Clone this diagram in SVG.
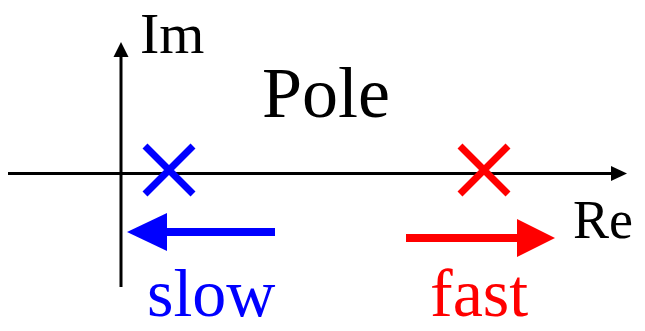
<svg xmlns="http://www.w3.org/2000/svg" width="645" height="331" viewBox="0 0 645 331">
<style>
.t{font-family:'Liberation Serif','Times New Roman',serif}
.ax{stroke:#000;stroke-width:3;fill:none}
.xb{stroke:#0000ff;stroke-width:7;fill:none}
.xr{stroke:#ff0000;stroke-width:7;fill:none}
</style>
<g id="connectors">
<line class="ax" x1="8" y1="173.5" x2="613" y2="173.5"/>
<polygon points="627,173.5 611,166 611,181" fill="#000"/>
<line class="ax" x1="121" y1="287" x2="121" y2="55"/>
<polygon points="121,42 113.5,57 128.5,57" fill="#000"/>
<line x1="275" y1="232" x2="165" y2="232" stroke="#0000ff" stroke-width="8"/>
<polygon points="127,232 167,213 167,251" fill="#0000ff"/>
<line x1="406" y1="238" x2="519" y2="238" stroke="#ff0000" stroke-width="8"/>
<polygon points="555,238 517,219 517,257" fill="#ff0000"/>
</g>
<g id="pole-slow">
<path class="xb" d="M145,146 L193,194 M193,146 L145,194"/>
</g>
<g id="pole-fast">
<path class="xr" d="M460,146 L508,194 M508,146 L460,194"/>
</g>
<g id="labels">
<text class="t" x="140" y="53" font-size="58">Im</text>
<text class="t" x="573" y="238" font-size="54">Re</text>
<text class="t" x="262" y="117" font-size="72">Pole</text>
<text class="t" x="147" y="316" font-size="68" fill="#0000ff">slow</text>
<text class="t" x="430" y="316" font-size="68" fill="#ff0000">fast</text>
</g>
</svg>
